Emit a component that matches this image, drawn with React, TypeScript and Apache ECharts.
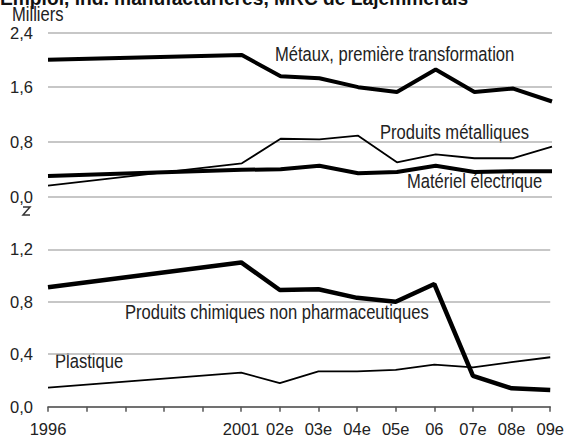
import React, { useEffect, useRef } from "react";
import * as echarts from "echarts";

const years = [1996, 2001, 2002, 2003, 2004, 2005, 2006, 2007, 2008, 2009];
const yearLabels: Record<number, string> = {
  1996: "1996", 2001: "2001", 2002: "02e", 2003: "03e", 2004: "04e",
  2005: "05e", 2006: "06", 2007: "07e", 2008: "08e", 2009: "09e",
};
const metaux = [2.0, 2.07, 1.76, 1.73, 1.6, 1.53, 1.86, 1.53, 1.58, 1.39];
const produitsMetalliques = [0.16, 0.485, 0.845, 0.835, 0.89, 0.5, 0.615, 0.56, 0.56, 0.73];
const materielElectrique = [0.3, 0.39, 0.4, 0.45, 0.34, 0.36, 0.45, 0.36, 0.37, 0.37];
const chimiques = [0.91, 1.1, 0.89, 0.895, 0.83, 0.8, 0.935, 0.235, 0.14, 0.127];
const plastique = [0.145, 0.26, 0.18, 0.27, 0.27, 0.28, 0.32, 0.3, 0.34, 0.377];

const FONT = "'Liberation Sans', Arial, sans-serif";
const TXT = "#222";
const GRID = "#b4b4b4";

const pairs = (vals: number[]) => years.map((y, i) => [y, vals[i]]);
const fmt = (v: number) => v.toFixed(1).replace(".", ",");

export default function App() {
  const ref = useRef<HTMLDivElement>(null);
  useEffect(() => {
    if (!ref.current) return;
    const chart = echarts.init(ref.current, null, { renderer: "svg" });
    const xBase = {
      type: "value" as const,
      min: 1996,
      max: 2009,
      interval: 1,
      splitLine: { show: false },
    };
    const line = (name: string, vals: number[], w: number, idx: number) => ({
      name,
      type: "line",
      xAxisIndex: idx,
      yAxisIndex: idx,
      data: pairs(vals),
      symbol: "none",
      lineStyle: { color: "#000", width: w },
      z: 3,
    });
    const label = (text: string, x: number, y: number) => ({
      type: "text",
      x,
      y,
      scaleX: 0.85,
      style: { text, font: `19.5px ${FONT}`, fill: TXT, textVerticalAlign: "middle" },
    });
    const axisLbl = { color: TXT, fontSize: 16.5, fontFamily: FONT };
    chart.setOption({
      animation: false,
      textStyle: { fontFamily: FONT },
      grid: [
        { left: 48, right: 15, top: 32.5, height: 164 },
        { left: 48, right: 15, top: 249.3, height: 157.4 },
      ],
      xAxis: [
        { ...xBase, gridIndex: 0, show: false },
        {
          ...xBase,
          gridIndex: 1,
          axisLine: { show: true, lineStyle: { color: "#555", width: 1.5 } },
          axisTick: { show: true, length: 5, lineStyle: { color: "#555", width: 1.5 } },
          axisLabel: {
            ...axisLbl,
            margin: 14,
            showMaxLabel: true,
            showMinLabel: true,
            formatter: (v: number) => yearLabels[v] ?? "",
          },
        },
      ],
      yAxis: [
        {
          type: "value",
          gridIndex: 0,
          min: 0,
          max: 2.4,
          interval: 0.8,
          axisLine: { show: false },
          axisTick: { show: false },
          axisLabel: { ...axisLbl, margin: 15, formatter: fmt },
          splitLine: { lineStyle: { color: GRID, width: 1.5 } },
        },
        {
          type: "value",
          gridIndex: 1,
          min: 0,
          max: 1.2,
          interval: 0.4,
          axisLine: { show: false },
          axisTick: { show: false },
          axisLabel: { ...axisLbl, margin: 15, formatter: fmt },
          splitLine: { lineStyle: { color: GRID, width: 1.5 } },
        },
      ],
      series: [
        line("Métaux, première transformation", metaux, 4, 0),
        line("Produits métalliques", produitsMetalliques, 1.8, 0),
        line("Matériel électrique", materielElectrique, 4, 0),
        line("Produits chimiques non pharmaceutiques", chimiques, 4.5, 1),
        line("Plastique", plastique, 1.8, 1),
      ],
      graphic: [
        {
          type: "text",
          x: 0,
          y: -2,
          scaleX: 0.96,
          style: {
            text: "Emploi, ind. manufacturières, MRC de Lajemmerais",
            font: `bold 20px ${FONT}`,
            fill: "#111",
            textVerticalAlign: "middle",
          },
        },
        label("Milliers", 12, 15),
        label("Métaux, première transformation", 275, 55),
        label("Produits métalliques", 380, 133),
        label("Matériel électrique", 407, 182),
        label("Produits chimiques non pharmaceutiques", 125, 313),
        label("Plastique", 55, 362),
        {
          type: "polyline",
          shape: { points: [[23, 207], [30, 207], [23, 215], [30, 215]] },
          style: { stroke: "#333", lineWidth: 1.5, fill: null },
        },
      ],
    });
    return () => chart.dispose();
  }, []);
  return (
    <div
      ref={ref}
      style={{ position: "fixed", left: 0, top: 0, width: 567, height: 444, background: "#fff" }}
    />
  );
}
